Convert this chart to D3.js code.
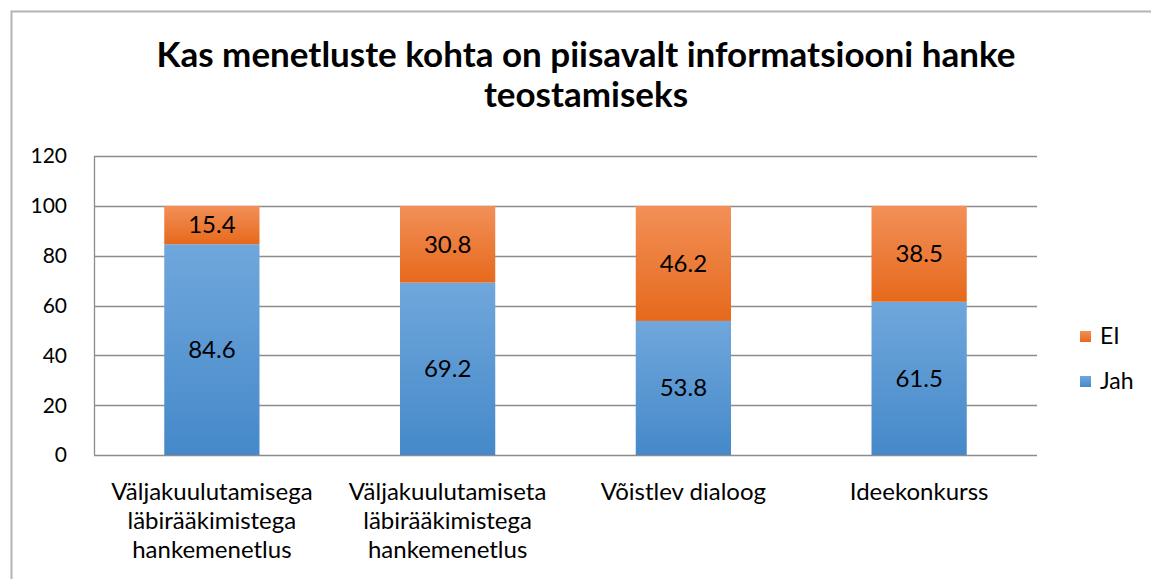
<!DOCTYPE html>
<html>
<head>
<meta charset="utf-8">
<script src="https://cdn.jsdelivr.net/npm/d3@7"></script>
<style>
  body { margin: 0; background: #fff; }
  text { font-family: Lato, "Open Sans", sans-serif; fill: #000; }
</style>
</head>
<body>
<svg id="chart" width="1151" height="579"></svg>
<script>
// data
const categories = [
  ["Väljakuulutamisega", "läbirääkimistega", "hankemenetlus"],
  ["Väljakuulutamiseta", "läbirääkimistega", "hankemenetlus"],
  ["Võistlev dialoog"],
  ["Ideekonkurss"]
];
const jah = [84.6, 69.2, 53.8, 61.5];
const ei = [15.4, 30.8, 46.2, 38.5];
const yTicks = [0, 20, 40, 60, 80, 100, 120];
const seriesNames = ["EI", "Jah"];
const titleLines = ["Kas menetluste kohta on piisavalt informatsiooni hanke", "teostamiseks"];

const svg = d3.select("#chart");
const margin = { left: 94, right: 1037, top: 156, bottom: 455 };

// chart frame (only top and left edges visible)
svg.append("path")
  .attr("d", "M11.5,579 L11.5,11.5 L1151,11.5")
  .attr("fill", "none")
  .attr("stroke", "#b3b3b3")
  .attr("stroke-width", 2);

// gradients
const defs = svg.append("defs");
const grad = (id, top, bottom) => {
  const g = defs.append("linearGradient").attr("id", id)
    .attr("x1", 0).attr("y1", 0).attr("x2", 0).attr("y2", 1);
  g.append("stop").attr("offset", "0%").attr("stop-color", top);
  g.append("stop").attr("offset", "100%").attr("stop-color", bottom);
};
grad("gBlue", "#70a7dc", "#4589c9");
grad("gOrange", "#f29058", "#e6691c");

const x = d3.scaleBand()
  .domain(d3.range(categories.length))
  .range([margin.left, margin.right])
  .paddingInner(0.596)
  .paddingOuter(0.298);

const y = d3.scaleLinear().domain([0, 120]).range([margin.bottom, margin.top]);

// gridlines
svg.append("g").selectAll("line")
  .data(yTicks)
  .join("line")
  .attr("x1", margin.left).attr("x2", margin.right)
  .attr("y1", d => Math.round(y(d)) + 0.5).attr("y2", d => Math.round(y(d)) + 0.5)
  .attr("stroke", "#8c8c8c")
  .attr("stroke-width", 1.3);

svg.append("line")
  .attr("x1", margin.left + 0.5).attr("x2", margin.left + 0.5)
  .attr("y1", margin.top).attr("y2", margin.bottom)
  .attr("stroke", "#8c8c8c")
  .attr("stroke-width", 1.3);

// y tick labels
svg.append("g").selectAll("text")
  .data(yTicks)
  .join("text")
  .attr("x", 67)
  .attr("y", d => y(d))
  .attr("dy", "0.35em")
  .attr("text-anchor", "end")
  .style("font-size", "21px")
  .text(d => d);

// bars
const bars = svg.append("g");
bars.selectAll(".jah")
  .data(jah)
  .join("rect")
  .attr("class", "jah")
  .attr("x", (d, i) => x(i))
  .attr("width", x.bandwidth())
  .attr("y", d => y(d))
  .attr("height", d => y(0) - y(d))
  .attr("fill", "url(#gBlue)");

bars.selectAll(".ei")
  .data(ei)
  .join("rect")
  .attr("class", "ei")
  .attr("x", (d, i) => x(i))
  .attr("width", x.bandwidth())
  .attr("y", (d, i) => y(jah[i] + d))
  .attr("height", (d, i) => y(jah[i]) - y(jah[i] + d))
  .attr("fill", "url(#gOrange)");

// value labels
const labels = svg.append("g").style("font-size", "24px");
labels.selectAll(".ljah")
  .data(jah)
  .join("text")
  .attr("x", (d, i) => x(i) + x.bandwidth() / 2)
  .attr("y", d => y(d / 2))
  .attr("dy", "0.35em")
  .attr("text-anchor", "middle")
  .text(d => d.toFixed(1));
labels.selectAll(".lei")
  .data(ei)
  .join("text")
  .attr("x", (d, i) => x(i) + x.bandwidth() / 2)
  .attr("y", (d, i) => y(jah[i] + d / 2))
  .attr("dy", "0.35em")
  .attr("text-anchor", "middle")
  .text(d => d.toFixed(1));

// category labels
const cat = svg.append("g").selectAll("text")
  .data(categories)
  .join("text")
  .attr("text-anchor", "middle")
  .style("font-size", "24px");
cat.selectAll("tspan")
  .data((d, i) => d.map(t => ({ t, i })))
  .join("tspan")
  .attr("x", d => x(d.i) + x.bandwidth() / 2)
  .attr("y", (d, j) => 500 + j * 29)
  .text(d => d.t);

// title
svg.append("g").selectAll("text")
  .data(titleLines)
  .join("text")
  .attr("x", 586)
  .attr("y", (d, i) => 67 + i * 40)
  .attr("text-anchor", "middle")
  .style("font-size", "35px")
  .style("font-weight", "bold")
  .text(d => d);

// legend
const legend = svg.append("g");
seriesNames.forEach((name, i) => {
  const ly = 336 + i * 45;
  legend.append("rect")
    .attr("x", 1080).attr("y", ly - 5)
    .attr("width", 11).attr("height", 11)
    .attr("fill", i === 0 ? "url(#gOrange)" : "url(#gBlue)");
  legend.append("text")
    .attr("x", 1100).attr("y", ly)
    .attr("dy", "0.35em")
    .style("font-size", "23px")
    .text(name);
});
</script>
</body>
</html>
